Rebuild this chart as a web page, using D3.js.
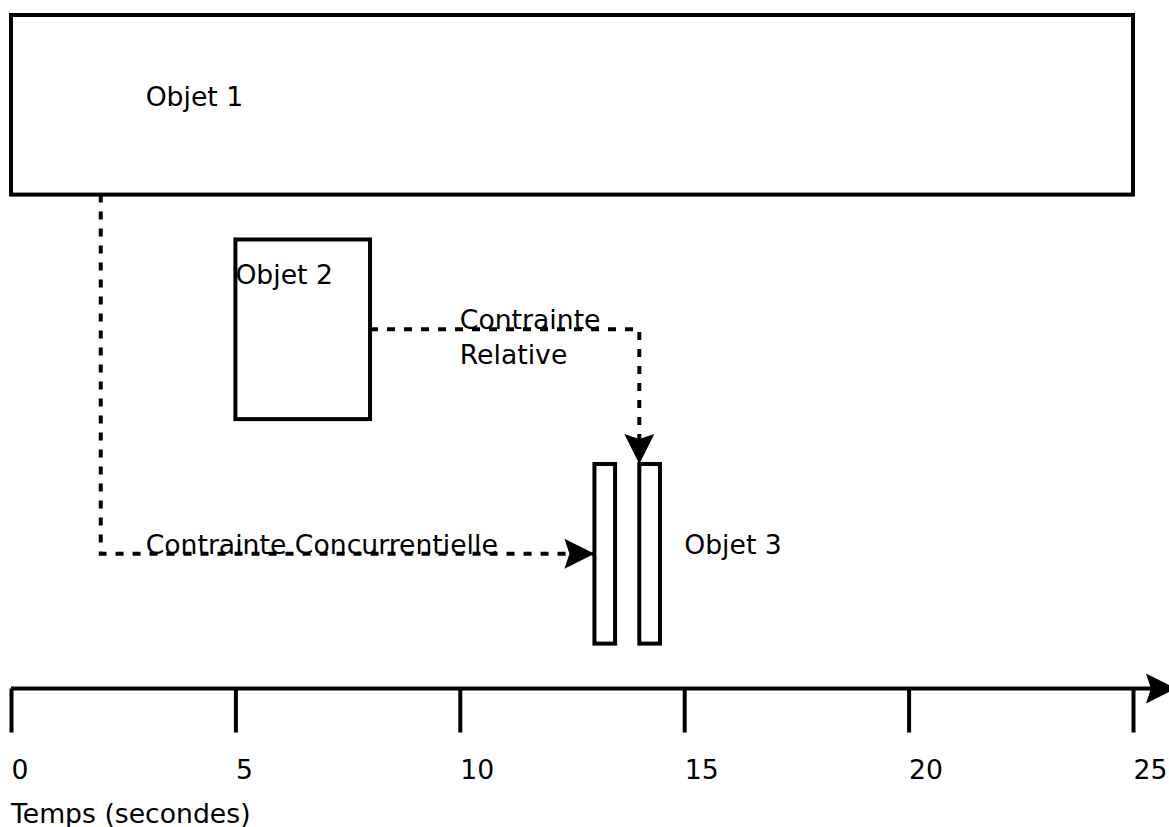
<!DOCTYPE html>
<html>
<head>
<meta charset="utf-8">
<script src="https://cdn.jsdelivr.net/npm/d3@7"></script>
<style>
  html, body { margin: 0; padding: 0; background: #fff; overflow: hidden; }
  svg { display: block; }
  text { font-family: "DejaVu Sans", sans-serif; font-size: 26.67px; fill: #000; }
</style>
</head>
<body>
<svg id="chart" width="1169" height="827"></svg>
<script>
// ---- data ----
const objects = [
  { name: "Objet 1", start: 0, end: 25, lane: 0 },
  { name: "Objet 2", start: 5, end: 8, lane: 1 }
];
const object3Bars = [
  { start: 13, end: 13.46, lane: 2 },
  { start: 14, end: 14.46, lane: 2 }
];
const objectLabels = [
  { text: "Objet 1", x: 3, lane: 0.4, dy: 1 },
  { text: "Objet 2", x: 5, lane: 1.2, dy: 0 },
  { text: "Objet 3", x: 15, lane: 2.4, dy: 0 }
];
// constraint paths: points in (time, lane) units
const constraintConcurrent = [[2, 0.8], [2, 2.4], [13, 2.4]];
const constraintRelative = [[8, 1.4], [14, 1.4], [14, 2]];
const constraintLabels = [
  { lines: ["Contrainte Concurrentielle"], x: 3, lane: 2.4 },
  { lines: ["Contrainte", "Relative"], x: 10, lane: 1.4 }
];
const tickValues = [0, 5, 10, 15, 20, 25];
const axisTitle = "Temps (secondes)";

// ---- scales ----
const svg = d3.select("#chart");
const x = d3.scaleLinear().domain([0, 25]).range([11, 1133]);
const y = d3.scaleLinear().domain([0, 3]).range([15, 688.5]);
const laneH = 0.8;

const defs = svg.append("defs");
defs.append("marker")
  .attr("id", "arrow")
  .attr("viewBox", "0 0 30 32")
  .attr("refX", 30).attr("refY", 16)
  .attr("markerWidth", 30).attr("markerHeight", 32)
  .attr("markerUnits", "userSpaceOnUse")
  .attr("orient", "auto")
  .append("path")
  .attr("d", "M30,16 L0,1 L5,16 L0,31 Z")
  .attr("fill", "#000");

// ---- objects ----
svg.selectAll("rect.obj")
  .data(objects.concat(object3Bars))
  .join("rect")
  .attr("class", "obj")
  .attr("x", d => x(d.start))
  .attr("y", d => y(d.lane))
  .attr("width", d => x(d.end) - x(d.start))
  .attr("height", d => y(d.lane + laneH) - y(d.lane))
  .attr("fill", "#fff")
  .attr("stroke", "#000")
  .attr("stroke-width", 4);

// ---- constraints ----
const line = d3.line().x(d => x(d[0])).y(d => y(d[1]));
[constraintConcurrent, constraintRelative].forEach(pts => {
  svg.append("path")
    .attr("d", line(pts))
    .attr("fill", "none")
    .attr("stroke", "#000")
    .attr("stroke-width", 4)
    .attr("stroke-dasharray", "8,9")
    .attr("marker-end", "url(#arrow)");
});

// ---- labels ----
svg.selectAll("text.objlab")
  .data(objectLabels)
  .join("text")
  .attr("class", "objlab")
  .attr("x", d => x(d.x))
  .attr("y", d => y(d.lane) + d.dy)
  .text(d => d.text);

constraintLabels.forEach(c => {
  const t = svg.append("text").attr("x", x(c.x)).attr("y", y(c.lane));
  c.lines.forEach((l, i) => {
    t.append("tspan").attr("x", x(c.x)).attr("dy", i === 0 ? 0 : 35).text(l);
  });
});

// ---- axis ----
svg.append("line")
  .attr("x1", x(0)).attr("x2", 1176)
  .attr("y1", y(3)).attr("y2", y(3))
  .attr("stroke", "#000").attr("stroke-width", 4)
  .attr("marker-end", "url(#arrow)");

const axis = d3.axisBottom(x)
  .tickValues(tickValues)
  .tickSize(44)
  .tickSizeOuter(0)
  .tickFormat(d3.format("d"));

const gAxis = svg.append("g")
  .attr("transform", `translate(0,${y(3)})`)
  .call(axis);
gAxis.select(".domain").remove();
gAxis.selectAll(".tick line").attr("stroke", "#000").attr("stroke-width", 4);
gAxis.selectAll(".tick text")
  .attr("text-anchor", "start")
  .attr("dy", null)
  .attr("y", 90)
  .attr("font-family", "DejaVu Sans")
  .attr("font-size", 26.67)
  .attr("fill", "#000");

svg.append("text")
  .attr("x", x(0))
  .attr("y", 823)
  .text(axisTitle);
</script>
</body>
</html>
